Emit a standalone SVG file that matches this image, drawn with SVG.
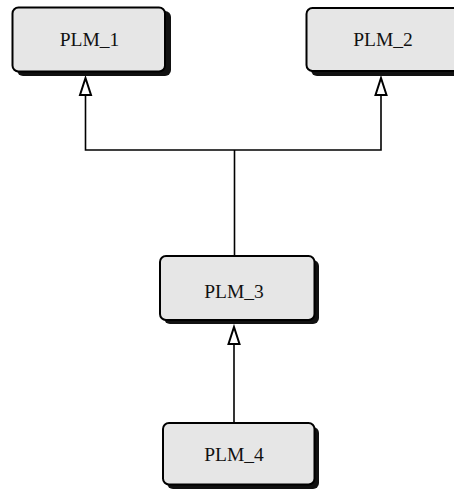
<svg xmlns="http://www.w3.org/2000/svg" width="454" height="489" viewBox="0 0 454 489">
  <style>
    .shadow { fill: #111; }
    .box { fill: #e6e6e6; stroke: #000; stroke-width: 2; }
    .label { font-family: "Liberation Serif", "Times New Roman", serif; font-size: 19.5px; fill: #111; text-anchor: middle; }
    .wire { fill: none; stroke: #000; stroke-width: 1.6; }
    .head { fill: #fff; stroke: #000; stroke-width: 2; stroke-linejoin: miter; }
  </style>
  <defs>
    <marker id="gen" markerUnits="userSpaceOnUse" markerWidth="14" markerHeight="20" refX="7" refY="1" orient="auto-start-reverse" viewBox="0 0 14 20">
      <path d="M7 1 L12 17 L2 17 Z" class="head"/>
    </marker>
  </defs>
  <rect width="454" height="489" fill="#fff"/>

  <g id="connectors">
    <!-- PLM_3 generalises to PLM_1 and PLM_2 through a shared trunk -->
    <path class="wire" d="M85.5 95 V150 H381 V95"/>
    <path class="wire" d="M234.5 150 V256"/>
    <path d="M85.5 78 L91 95 L80 95 Z" class="head"/>
    <path d="M381 78 L386.5 95 L375.5 95 Z" class="head"/>
    <!-- PLM_4 generalises to PLM_3 -->
    <path class="wire" d="M234 344 V423"/>
    <path d="M234 327 L239.5 344 L228.5 344 Z" class="head"/>
  </g>

  <g id="plm1">
    <rect class="shadow" x="17" y="11" width="154" height="65" rx="6"/>
    <rect class="box" x="12.5" y="7.5" width="152.5" height="64" rx="6"/>
    <text class="label" x="89.5" y="46">PLM_1</text>
  </g>

  <g id="plm2">
    <rect class="shadow" x="311" y="12" width="154" height="64" rx="6"/>
    <rect class="box" x="306.5" y="8" width="152.5" height="63" rx="6"/>
    <text class="label" x="383" y="46">PLM_2</text>
  </g>

  <g id="plm3">
    <rect class="shadow" x="164" y="260" width="155" height="64" rx="6"/>
    <rect class="box" x="160" y="256" width="154.5" height="64" rx="6"/>
    <text class="label" x="234" y="298">PLM_3</text>
  </g>

  <g id="plm4">
    <rect class="shadow" x="167" y="427" width="152" height="62" rx="6"/>
    <rect class="box" x="163" y="423" width="151.5" height="61.5" rx="6"/>
    <text class="label" x="234" y="461">PLM_4</text>
  </g>
</svg>
